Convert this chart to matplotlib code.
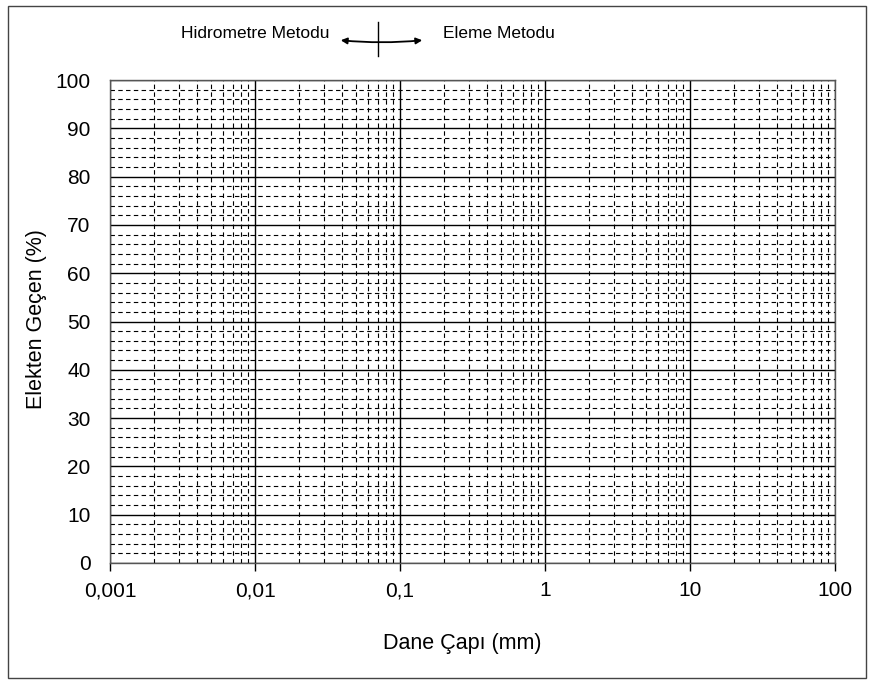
import matplotlib.pyplot as plt
from matplotlib.ticker import FixedLocator, NullFormatter
from matplotlib.patches import Rectangle, FancyArrowPatch
import numpy as np

plt.rcParams['font.family'] = ['Liberation Sans', 'DejaVu Sans']

# axis values
x_ticks = [0.001, 0.01, 0.1, 1, 10, 100]
x_tick_labels = ['0,001', '0,01', '0,1', '1', '10', '100']
y_ticks = [0, 10, 20, 30, 40, 50, 60, 70, 80, 90, 100]
y_minor = [v for v in range(0, 101, 2) if v % 10 != 0]
x_minor = [d * m for d in [0.001, 0.01, 0.1, 1, 10] for m in range(2, 10)]
divider = 0.07  # hidrometre / eleme limit

fig = plt.figure(figsize=(8.74, 6.84), dpi=100)
ax = fig.add_axes([110 / 874, 1 - 563 / 684, 725 / 874, 483 / 684])

ax.set_xscale('log')
ax.set_xlim(0.001, 100)
ax.set_ylim(0, 100)

ax.xaxis.set_major_locator(FixedLocator(x_ticks))
ax.set_xticklabels(x_tick_labels)
ax.xaxis.set_minor_locator(FixedLocator(x_minor))
ax.xaxis.set_minor_formatter(NullFormatter())
ax.yaxis.set_major_locator(FixedLocator(y_ticks))
ax.yaxis.set_minor_locator(FixedLocator(y_minor))

# grid
ax.grid(which='major', color='black', linewidth=1.0, linestyle='-')
ax.grid(which='minor', color='black', linewidth=0.8, linestyle=(0, (4, 3)))

ax.tick_params(axis='x', which='major', direction='out', length=6, width=1,
               labelsize=15, pad=7)
ax.tick_params(axis='x', which='minor', length=0)
ax.tick_params(axis='y', which='major', length=0, labelsize=15, pad=14)
ax.tick_params(axis='y', which='minor', length=0)

for s in ax.spines.values():
    s.set_linewidth(1.0)
    s.set_color('#555555')

ax.set_xlabel('Dane Çapı (mm)', fontsize=15.5)
ax.xaxis.set_label_coords((462 - 110) / 725, -(633 - 563) / 483)
ax.set_ylabel('Elekten Geçen (%)', fontsize=15.5)
ax.yaxis.set_label_coords(-(110 - 47) / 725, (563 - 319) / 483)

# top annotation
fig.text(255 / 874, 1 - 33 / 684, 'Hidrometre Metodu', fontsize=12.5,
         ha='center', va='center')
fig.text(499 / 874, 1 - 33 / 684, 'Eleme Metodu', fontsize=12.5,
         ha='center', va='center')
xd = (np.log10(divider) + 3) / 5 * 725 + 110
fig.add_artist(plt.Line2D([xd / 874, xd / 874], [1 - 22 / 684, 1 - 56 / 684],
                          color='black', linewidth=1))
fig.patches.append(FancyArrowPatch(
    (338 / 874, 1 - 40 / 684), (425 / 874, 1 - 40 / 684),
    transform=fig.transFigure, arrowstyle='<|-|>', mutation_scale=9,
    color='black', linewidth=1.3, connectionstyle='arc3,rad=0.05'))

# outer frame
fig.patches.append(Rectangle((8 / 874, 6 / 684), 858 / 874, 672 / 684,
                             transform=fig.transFigure, fill=False,
                             edgecolor='#444444', linewidth=1))

fig.savefig('out.png', dpi=100)
